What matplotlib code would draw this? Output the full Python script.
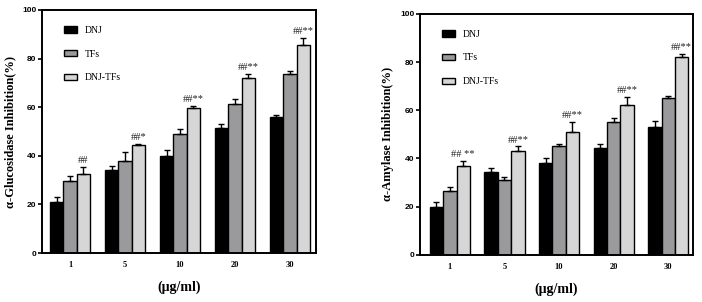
import matplotlib
matplotlib.use("Agg")
import matplotlib.pyplot as plt
import numpy as np

concentrations = ["1", "5", "10", "20", "30"]
series_names = ["DNJ", "TFs", "DNJ-TFs"]

gluc_dnj = [21, 34, 40, 51.5, 56]
gluc_dnj_err = [2, 2, 2.5, 1.5, 1]
gluc_tfs = [29.5, 38, 49, 61.5, 73.5]
gluc_tfs_err = [2, 3.5, 2, 2, 1.5]
gluc_mix = [32.5, 44.5, 59.5, 72, 85.5]
gluc_mix_err = [3, 0.5, 1.2, 1.5, 3]
gluc_marks = ["##", "##*", "##**", "##**", "##**"]

amy_dnj = [20, 34.5, 38, 44.5, 53]
amy_dnj_err = [2, 1.5, 2, 1.5, 2.5]
amy_tfs = [26.5, 31, 45, 55, 65]
amy_tfs_err = [1.5, 1.5, 1, 2, 1]
amy_mix = [37, 43, 51, 62, 82]
amy_mix_err = [2, 2, 4, 3.5, 1.5]
amy_marks = ["## **", "##**", "##**", "##**", "##**"]

colors = ["#000000", "#9a9a9c", "#d6d6d6"]

fig = plt.figure(figsize=(7.02, 3.02), dpi=100)
ax1 = fig.add_axes([0.0598, 0.162, 0.390, 0.805])
ax2 = fig.add_axes([0.598, 0.156, 0.389, 0.798])

def draw(ax, vals, errs, marks, ylabel, xlim):
    x = np.arange(len(concentrations))
    w = 0.245
    handles = []
    for i, (v, e) in enumerate(zip(vals, errs)):
        pos = x + (i - 1) * w
        b = ax.bar(pos, v, width=w, color=colors[i], edgecolor="black", linewidth=1.0,
                   label=series_names[i], zorder=2)
        ax.errorbar(pos, v, yerr=[np.zeros(len(v)), e], fmt="none", ecolor="black",
                    elinewidth=1.0, capsize=2.5, capthick=1.0, zorder=3)
        handles.append(b)
    top = np.array(vals[2]) + np.array(errs[2])
    for xi, t, m in zip(x + w, top, marks):
        ax.text(xi, t + 0.8, m, ha="center", va="bottom", fontsize=7.5,
                family="Liberation Serif", color="#222222")
    ax.set_ylim(0, 100)
    ax.set_xlim(*xlim)
    ax.set_yticks([0, 20, 40, 60, 80, 100])
    ax.set_yticklabels(["0", "20", "40", "60", "80", "100"], fontsize=6,
                       fontweight="bold", family="Liberation Sans")
    ax.set_xticks(x)
    ax.set_xticklabels(concentrations, fontsize=6, fontweight="bold",
                       family="Liberation Serif")
    ax.tick_params(axis="x", length=0, pad=6)
    ax.tick_params(axis="y", length=3, width=1.2, pad=1)
    for s in ax.spines.values():
        s.set_linewidth(1.4)
    ax.set_ylabel(ylabel, fontsize=9, fontweight="bold", family="Liberation Serif",
                  labelpad=4)
    ax.set_xlabel("(μg/ml)", fontsize=10, fontweight="bold", family="Liberation Serif",
                  labelpad=8)
    leg = ax.legend(handles=handles, loc="upper left", bbox_to_anchor=(0.05, 0.97),
                    frameon=False, prop={"family": "Liberation Serif", "size": 7},
                    handlelength=1.3, handleheight=0.6, labelspacing=1.5,
                    handletextpad=0.8)
    for p in leg.get_patches():
        p.set_linewidth(1.0)

draw(ax1, [gluc_dnj, gluc_tfs, gluc_mix], [gluc_dnj_err, gluc_tfs_err, gluc_mix_err],
     gluc_marks, "α-Glucosidase Inhibition(%)", (-0.51, 4.47))
draw(ax2, [amy_dnj, amy_tfs, amy_mix], [amy_dnj_err, amy_tfs_err, amy_mix_err],
     amy_marks, "α-Amylase Inhibition(%)", (-0.55, 4.45))

fig.savefig("out.png", dpi=100)
